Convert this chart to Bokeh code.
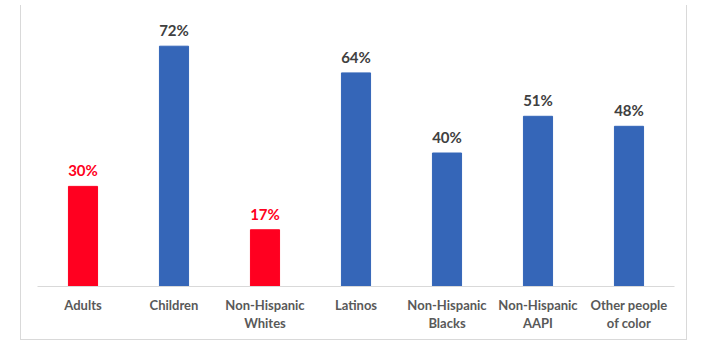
from bokeh.plotting import figure
from bokeh.models import (ColumnDataSource, LabelSet, LinearAxis, Range1d,
                          FixedTicker)
from bokeh.embed import file_html
from bokeh.resources import INLINE
from bokeh.core.properties import value

categories = ["Adults", "Children", "Non-Hispanic Whites", "Latinos",
              "Non-Hispanic Blacks", "Non-Hispanic AAPI", "Other people of color"]
tick_line1 = ["Adults", "Children", "Non-Hispanic", "Latinos",
              "Non-Hispanic", "Non-Hispanic", "Other people"]
tick_line2 = ["", "", "Whites", "", "Blacks", "AAPI", "of color"]
values = [30, 72, 17, 64, 40, 51, 48]
value_labels = ["30%", "72%", "17%", "64%", "40%", "51%", "48%"]
highlight = [True, False, True, False, False, False, False]

RED = "#FF0020"
BLUE = "#3566B8"
bar_colors = [RED if h else BLUE for h in highlight]
label_colors = [RED if h else "#404040" for h in highlight]

# category slot centres on a numeric axis (one unit per category)
centers = [i + 0.5 for i in range(len(categories))]

src = ColumnDataSource(dict(x=centers, cat=categories, val=values, lab=value_labels,
                            col=bar_colors, lcol=label_colors))

p = figure(width=667, height=335, x_range=Range1d(0, len(categories)),
           y_range=(0, 80), output_backend="svg", toolbar_location=None,
           x_axis_location=None,
           min_border_left=16, min_border_right=14, min_border_top=14,
           min_border_bottom=54)
p.margin = (5, 0, 0, 20)
p.styles = {"border-left": "1px solid #D9D9D9",
            "border-right": "1px solid #D9D9D9",
            "border-bottom": "1px solid #D9D9D9"}
p.outline_line_color = None
p.grid.visible = False
p.yaxis.visible = False
p.background_fill_color = "white"
p.border_fill_color = "white"

p.vbar(x="x", top="val", width=0.32, color="col", source=src)

labels = LabelSet(x="x", y="val", text="lab", source=src, text_color="lcol",
                  text_align="center", text_baseline="bottom", y_offset=7,
                  text_font=value("Lato"), text_font_style="bold",
                  text_font_size="15px")
p.add_layout(labels)


def make_axis(lines, standoff, show_line):
    return LinearAxis(
        ticker=FixedTicker(ticks=centers, minor_ticks=[]),
        major_label_overrides=dict(zip(centers, [t if t else " " for t in lines])),
        axis_line_color="#D9D9D9" if show_line else None,
        axis_line_width=1,
        major_tick_line_color=None, minor_tick_line_color=None,
        major_label_text_font="Lato", major_label_text_font_style="bold",
        major_label_text_font_size="13px", major_label_text_color="#595959",
        major_label_standoff=standoff)


p.add_layout(make_axis(tick_line1, 4, True), "below")
p.add_layout(make_axis(tick_line2, -7, False), "below")

open("out.html", "w").write(file_html(p, INLINE))
